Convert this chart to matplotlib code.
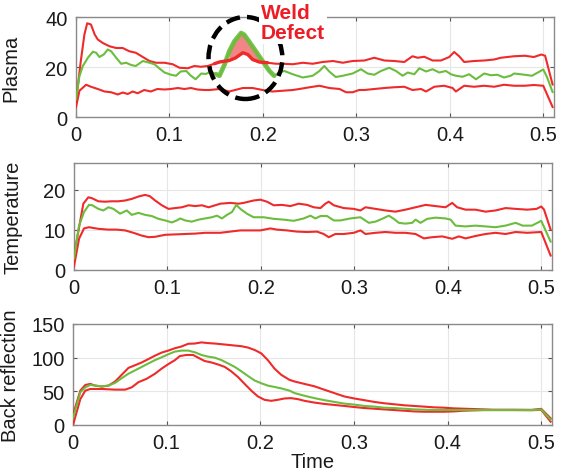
import matplotlib
matplotlib.use("Agg")
import matplotlib.pyplot as plt
from matplotlib.patches import Ellipse
import numpy as np

plt.rcParams['font.family'] = ['Liberation Sans Narrow', 'Liberation Sans', 'DejaVu Sans']

# ---------------- data ----------------
# Plasma
pu_t = [0, 0.005, 0.009, 0.012, 0.016, 0.020, 0.0233, 0.0287, 0.0358, 0.043, 0.050, 0.057, 0.064, 0.0715, 0.0786, 0.0857, 0.0947, 0.1035, 0.1107, 0.1196, 0.1267, 0.1339, 0.141, 0.148, 0.1535, 0.164, 0.171, 0.1785, 0.1838, 0.189, 0.196, 0.205, 0.214, 0.221, 0.232, 0.2427, 0.2533, 0.264, 0.275, 0.2855, 0.296, 0.3086, 0.3192, 0.33, 0.3406, 0.3513, 0.36, 0.3656, 0.3727, 0.3816, 0.3905, 0.3994, 0.4047, 0.41, 0.4154, 0.426, 0.4368, 0.4475, 0.4546, 0.4617, 0.4689, 0.48, 0.49, 0.498, 0.502, 0.51]
pu_v = [6, 22, 33, 37.5, 37, 33, 31, 29.6, 28.3, 27.6, 27.6, 26.3, 25.7, 24, 22.4, 21.7, 21.7, 21.1, 19.7, 19.5, 20.4, 20.1, 20.4, 21.3, 22, 22.6, 23.7, 25.7, 25, 23, 22, 21.7, 21.3, 21.3, 21.1, 21.7, 21.3, 22, 22.4, 21.7, 22.4, 22.6, 23.7, 22.6, 22.4, 22, 24.3, 23.7, 24.1, 22.6, 22.6, 24, 26, 24.3, 22, 22.4, 22.6, 23, 23.7, 24, 24.3, 24.5, 24, 25, 24.5, 13]

pg_t = [0, 0.0037, 0.0073, 0.0127, 0.018, 0.0216, 0.025, 0.0297, 0.034, 0.0376, 0.043, 0.0483, 0.0537, 0.059, 0.064, 0.0715, 0.0786, 0.084, 0.089, 0.0947, 0.1017, 0.107, 0.112, 0.118, 0.123, 0.128, 0.134, 0.139, 0.144, 0.15, 0.1535, 0.159, 0.164, 0.1695, 0.1767, 0.18, 0.185, 0.1924, 0.1995, 0.207, 0.212, 0.2175, 0.223, 0.232, 0.2427, 0.2533, 0.2605, 0.2657, 0.271, 0.278, 0.2855, 0.296, 0.305, 0.312, 0.3192, 0.3263, 0.3352, 0.3424, 0.3495, 0.355, 0.362, 0.3674, 0.3745, 0.3816, 0.3887, 0.3958, 0.4012, 0.4065, 0.4136, 0.4207, 0.428, 0.4368, 0.444, 0.451, 0.458, 0.465, 0.4689, 0.478, 0.488, 0.5, 0.504, 0.51]
pg_v = [7.2, 16.4, 20.4, 23.7, 26.1, 25.7, 24, 25, 27, 26.3, 23.7, 21.3, 21.7, 20.8, 20.4, 22.4, 21.7, 21.1, 19.5, 17.8, 16.9, 16.5, 18.2, 18.4, 16.5, 15.1, 17.4, 17.2, 18.2, 17.1, 16.5, 21, 26.3, 30.3, 33.6, 32.9, 30.3, 26.3, 22.4, 18.4, 16.5, 17.8, 18.4, 17.1, 15.8, 16.5, 18.4, 20.4, 18.2, 16, 16.5, 17.4, 19.1, 17.4, 16.9, 18.4, 19.7, 18.4, 16.5, 17.8, 17.1, 19.5, 18.2, 19.1, 17.8, 18.4, 17.1, 16.5, 16.1, 17.1, 15.1, 17.4, 16.7, 16.9, 15.8, 16.5, 17.4, 17, 16.5, 19, 16, 10]

pl_t = [0, 0.0037, 0.0108, 0.016, 0.0233, 0.0305, 0.0376, 0.0447, 0.05, 0.0554, 0.0607, 0.066, 0.073, 0.08, 0.087, 0.0947, 0.1017, 0.109, 0.116, 0.123, 0.13, 0.137, 0.1428, 0.1535, 0.164, 0.1785, 0.189, 0.1995, 0.21, 0.221, 0.232, 0.239, 0.25, 0.2605, 0.271, 0.282, 0.289, 0.296, 0.303, 0.3086, 0.3192, 0.33, 0.3406, 0.3513, 0.36, 0.3692, 0.3745, 0.3834, 0.394, 0.403, 0.4065, 0.4154, 0.426, 0.4368, 0.4475, 0.458, 0.4689, 0.48, 0.49, 0.5, 0.51]
pl_v = [3.9, 10.5, 12.9, 12.1, 11.2, 10.2, 9.9, 9.0, 9.8, 9.2, 10.2, 9.5, 10.8, 10.2, 11.2, 11, 11.2, 11.6, 11.2, 11.6, 11, 10.8, 10.8, 11.2, 10.2, 11.6, 11.6, 10.8, 10.2, 10.5, 10.8, 11.2, 11.9, 12.5, 11.6, 11.2, 9.9, 9.9, 10.8, 10.8, 11.2, 11.6, 11.9, 12.1, 10.8, 11.2, 10.2, 12.1, 12.5, 11.6, 10.2, 12.5, 12.1, 12.5, 12.1, 12.9, 12.5, 12.5, 12.8, 12.5, 4]

# Weld defect window
defect_t = [0.146, 0.213]
fill_t = [0.160, 0.198]

# Temperature
tu_t = [0, 0.005, 0.01, 0.0153, 0.019, 0.026, 0.033, 0.0404, 0.0475, 0.0547, 0.0618, 0.069, 0.076, 0.081, 0.0868, 0.094, 0.1011, 0.1083, 0.1154, 0.1226, 0.1297, 0.1368, 0.144, 0.1511, 0.1565, 0.1672, 0.176, 0.1815, 0.1922, 0.1994, 0.2065, 0.2137, 0.2225, 0.2315, 0.2405, 0.2494, 0.2565, 0.2637, 0.269, 0.2726, 0.278, 0.2887, 0.2994, 0.3065, 0.3119, 0.3226, 0.3333, 0.344, 0.3547, 0.3655, 0.3762, 0.3869, 0.3976, 0.4047, 0.41, 0.419, 0.4297, 0.4404, 0.451, 0.4618, 0.4726, 0.485, 0.495, 0.5, 0.503, 0.51]
tu_v = [3.5, 10, 16.5, 18.1, 17.9, 17.1, 17.0, 17.1, 17.1, 17.3, 17.7, 18.3, 18.7, 18.4, 17.3, 16.1, 15.2, 15.4, 15.6, 16.1, 15.9, 16.1, 15.6, 16.1, 16.5, 16.7, 16.5, 16.7, 17.3, 17.5, 17, 16.1, 16.2, 15.9, 16.5, 16.2, 15.6, 15.4, 16.5, 17, 16.1, 15.4, 15.2, 14.8, 15.6, 15.2, 14.8, 14.5, 15, 15.6, 16.2, 15.9, 15.6, 16.7, 15.6, 15, 15, 14.5, 14.8, 15.4, 15.2, 15, 15.2, 15.8, 15, 10]

tg_t = [0, 0.0054, 0.0107, 0.016, 0.0196, 0.026, 0.0314, 0.0368, 0.0422, 0.0493, 0.0565, 0.0618, 0.069, 0.076, 0.0833, 0.0904, 0.0975, 0.1047, 0.11, 0.1136, 0.119, 0.126, 0.1333, 0.1404, 0.1475, 0.153, 0.1583, 0.1637, 0.169, 0.1737, 0.178, 0.185, 0.1922, 0.203, 0.2137, 0.2244, 0.2351, 0.2458, 0.253, 0.2583, 0.2637, 0.2708, 0.278, 0.285, 0.2958, 0.3065, 0.3155, 0.3226, 0.3297, 0.3369, 0.3422, 0.3476, 0.3547, 0.3619, 0.3655, 0.3708, 0.378, 0.3869, 0.3976, 0.403, 0.4083, 0.419, 0.4297, 0.4404, 0.451, 0.4618, 0.4726, 0.48, 0.49, 0.5, 0.51]
tg_v = [2.8, 11, 14.4, 16.2, 16.1, 15.2, 14.8, 15.6, 15.2, 14, 14.8, 13.7, 14.2, 13.7, 13.4, 12.7, 12.3, 11.8, 12.3, 12.8, 12.3, 12, 12.5, 12.8, 13.1, 13.5, 12.8, 13.7, 14.4, 16.2, 15.2, 14, 13.1, 13.1, 12.7, 12.5, 12.2, 12.8, 13.5, 12.8, 13.4, 13.4, 12.3, 12.3, 12.8, 13.1, 11.7, 12, 12.7, 13.5, 12.7, 11.7, 11.5, 11.7, 12.5, 11.7, 12.7, 13, 12.8, 12.5, 11, 10.8, 11, 10.8, 10.6, 11, 11.7, 11, 11, 12.2, 7]

tl_t = [0, 0.0054, 0.0107, 0.016, 0.026, 0.0368, 0.0457, 0.0547, 0.0636, 0.0725, 0.0797, 0.0868, 0.0975, 0.1083, 0.119, 0.1297, 0.1404, 0.1511, 0.1565, 0.1672, 0.178, 0.1887, 0.1994, 0.2101, 0.2172, 0.228, 0.2387, 0.2494, 0.26, 0.2672, 0.2726, 0.2797, 0.2887, 0.2994, 0.3065, 0.3119, 0.3226, 0.3333, 0.344, 0.3547, 0.3655, 0.3744, 0.3833, 0.394, 0.4047, 0.4119, 0.419, 0.4297, 0.4404, 0.451, 0.4618, 0.4726, 0.485, 0.5, 0.51]
tl_v = [0.8, 7.7, 10.3, 10.6, 10.2, 10, 10, 9.8, 9.2, 8.5, 8.1, 8.2, 8.7, 8.8, 8.9, 9, 9.2, 9.2, 9.2, 9.5, 9.8, 9.8, 9.8, 10.3, 10, 9.8, 9.5, 9.4, 9.5, 8.9, 8.1, 8.9, 8.9, 9.2, 9.8, 8.9, 9.2, 9.4, 9.2, 9.2, 8.9, 7.8, 8.1, 8.3, 7.7, 8.3, 7.8, 8.4, 8.9, 9.2, 8.9, 9.4, 9.2, 9.4, 3.5]

# Back reflection
bu_t = [0, 0.0078, 0.0131, 0.0184, 0.0237, 0.0308, 0.0379, 0.045, 0.0521, 0.0592, 0.0663, 0.0734, 0.0805, 0.0876, 0.0946, 0.1017, 0.1088, 0.1159, 0.123, 0.1301, 0.1372, 0.1443, 0.1514, 0.1585, 0.1656, 0.1727, 0.1798, 0.1869, 0.194, 0.201, 0.2081, 0.2152, 0.2223, 0.2312, 0.2366, 0.2472, 0.2578, 0.2684, 0.279, 0.2897, 0.3003, 0.3109, 0.3216, 0.3322, 0.3429, 0.3535, 0.3641, 0.3748, 0.3854, 0.396, 0.4067, 0.4173, 0.428, 0.4386, 0.4492, 0.4599, 0.4705, 0.49, 0.5, 0.51]
bu_v = [15, 51, 59.4, 61, 58.5, 57, 58.5, 64.6, 74.7, 84.8, 88.8, 92.9, 97.9, 103, 107.5, 110.5, 114, 116.6, 120.6, 121, 122.7, 121.6, 121, 120, 119, 118, 117, 115, 111.4, 106.4, 96.3, 83.7, 74.6, 67, 64.6, 61, 57.5, 52.4, 47.4, 42.4, 39.4, 36.9, 34.3, 32.3, 30.8, 29.3, 28.3, 27.3, 26.2, 25.7, 24.7, 24.2, 23.7, 23.2, 22.7, 22.7, 22.7, 22.5, 24, 10]

bg_t = [0, 0.0078, 0.0131, 0.0184, 0.0237, 0.0308, 0.0379, 0.045, 0.0521, 0.0592, 0.0663, 0.0734, 0.0805, 0.0876, 0.0946, 0.1017, 0.1088, 0.1159, 0.123, 0.1301, 0.1372, 0.1443, 0.1514, 0.1585, 0.1656, 0.1727, 0.1798, 0.1869, 0.194, 0.201, 0.2081, 0.2152, 0.2223, 0.2312, 0.2366, 0.2472, 0.2578, 0.2684, 0.279, 0.2897, 0.3003, 0.3109, 0.3216, 0.3322, 0.3429, 0.3535, 0.3641, 0.3748, 0.3854, 0.4, 0.45, 0.49, 0.5, 0.51]
bg_v = [10, 48.5, 56, 59.5, 58.5, 57.5, 58.5, 62.6, 69.6, 76.2, 81.2, 86.3, 91.4, 96.4, 100.5, 105, 109, 110.5, 110.5, 108, 104, 101.5, 100, 96.4, 91.4, 86.3, 79.7, 72.7, 66.1, 62, 58.5, 56.5, 54.4, 51, 47.4, 43.4, 39.9, 36.9, 34.3, 31.8, 30.3, 28.3, 27.3, 25.7, 25.2, 24.2, 23.2, 22.7, 22.2, 22.2, 22.2, 22.2, 23, 8]

bl_t = [0, 0.0078, 0.0131, 0.0184, 0.0308, 0.045, 0.0557, 0.0628, 0.0699, 0.0787, 0.0876, 0.0946, 0.1017, 0.1088, 0.1141, 0.1212, 0.1283, 0.1336, 0.1407, 0.1478, 0.1549, 0.162, 0.169, 0.1762, 0.1833, 0.1904, 0.1975, 0.2045, 0.2116, 0.2187, 0.2258, 0.2329, 0.2401, 0.2472, 0.2578, 0.2684, 0.279, 0.2897, 0.3003, 0.3109, 0.3216, 0.3322, 0.3429, 0.3535, 0.3641, 0.3748, 0.3854, 0.396, 0.4067, 0.4173, 0.428, 0.4386, 0.4492, 0.47, 0.49, 0.5, 0.51]
bl_v = [0, 38.4, 51, 53.5, 53.5, 52.5, 52.5, 56, 63.6, 68.7, 76.2, 83.7, 90.3, 96.3, 102.4, 104, 104, 100, 95, 92.9, 89.9, 86.3, 79.7, 71.2, 61, 51, 42.4, 37.4, 35.9, 37.4, 39.4, 39.9, 38.4, 35.9, 33.3, 31.3, 29.8, 28.3, 26.7, 25.2, 24.2, 23.2, 22.2, 21.2, 20.2, 19.7, 19.7, 19.7, 20.2, 21.2, 21.7, 22.2, 22.2, 22.2, 22, 22.5, 5]

x_ticks = [0, 0.1, 0.2, 0.3, 0.4, 0.5]
x_ticklabels = ['0', '0.1', '0.2', '0.3', '0.4', '0.5']
ylabels = ['Plasma', 'Temperature', 'Back reflection']
yticks = [[0, 20, 40], [0, 10, 20], [0, 50, 100, 150]]
ylims = [(0, 40), (0, 26.7), (0, 150)]

RED = '#ef2a2a'
GREEN = '#6cbd3e'

# ---------------- figure ----------------
W, H = 566, 477
fig = plt.figure(figsize=(W / 100, H / 100), dpi=100)
boxes = [(76, 18, 554, 118), (74, 164, 552, 270.5), (73, 325, 552, 426)]
label_x = [20, 22, 20]
axes = []
for (l, t, r, b) in boxes:
    axes.append(fig.add_axes([l / W, 1 - b / H, (r - l) / W, (b - t) / H]))

series = [
    [(pu_t, pu_v, RED), (pl_t, pl_v, RED), (pg_t, pg_v, GREEN)],
    [(tu_t, tu_v, RED), (tl_t, tl_v, RED), (tg_t, tg_v, GREEN)],
    [(bu_t, bu_v, RED), (bl_t, bl_v, RED), (bg_t, bg_v, GREEN)],
]

for i, ax in enumerate(axes):
    for (tt, vv, c) in series[i]:
        ax.plot(tt, vv, color=c, lw=1.5, solid_joinstyle='round', zorder=3)
    ax.set_xlim(0, 0.5115)
    ax.set_ylim(*ylims[i])
    ax.set_xticks(x_ticks)
    ax.set_xticklabels(x_ticklabels)
    ax.set_yticks(yticks[i])
    ax.grid(True, color='#e6e6e6', lw=0.8)
    ax.set_axisbelow(True)
    ax.tick_params(direction='in', top=True, right=True, length=3, width=0.8,
                   color='#555555', labelsize=14.5, labelcolor='#1a1a1a')
    ax.tick_params(axis='x', pad=6)
    ax.tick_params(axis='y', pad=6)
    for s in ax.spines.values():
        s.set_color('#8a8a8a')
        s.set_linewidth(1.0)
    ax.set_ylabel(ylabels[i], fontsize=14.5, color='#1a1a1a')
    l, t, r, b = boxes[i]
    ax.yaxis.set_label_coords((label_x[i] - l) / (r - l), 0.5)

axes[2].set_xlabel('Time', fontsize=14.5, color='#1a1a1a', labelpad=0)

# weld defect highlight on plasma plot
ax = axes[0]
pu_ta, pu_va = np.array(pu_t), np.array(pu_v)
pg_ta, pg_va = np.array(pg_t), np.array(pg_v)
m = (pg_ta >= defect_t[0]) & (pg_ta <= defect_t[1])
ax.plot(pg_ta[m], pg_va[m], color=GREEN, lw=3.4, alpha=0.9, zorder=4, solid_capstyle='round')
mr = (pu_ta >= defect_t[0]) & (pu_ta <= defect_t[1])
ax.plot(pu_ta[mr], pu_va[mr], color=RED, lw=2.4, zorder=5, solid_capstyle='round')
ft = np.union1d(pg_ta[(pg_ta >= fill_t[0]) & (pg_ta <= fill_t[1])],
                pu_ta[(pu_ta >= fill_t[0]) & (pu_ta <= fill_t[1])])
g = np.interp(ft, pg_ta, pg_va)
r = np.interp(ft, pu_ta, pu_va)
ax.fill_between(ft, r, g, where=g >= r, color='#f07070', alpha=0.85, lw=0, zorder=3.5)

ell = Ellipse((0.1813, 23.6), width=0.079, height=32.8, fill=False, ec='black',
              lw=3.2, ls=(0, (3.2, 1.6)), zorder=6, clip_on=False)
ax.add_patch(ell)

fig.text(261 / W, 1 - 4 / H, 'Weld\nDefect', color='#ee1c25', fontsize=15,
         fontweight='bold', ha='left', va='top', linespacing=1.05,
         family=['Liberation Sans', 'DejaVu Sans'],
         bbox=dict(facecolor='white', edgecolor='none', pad=1.5), zorder=10)

fig.savefig('out.png', dpi=100)
